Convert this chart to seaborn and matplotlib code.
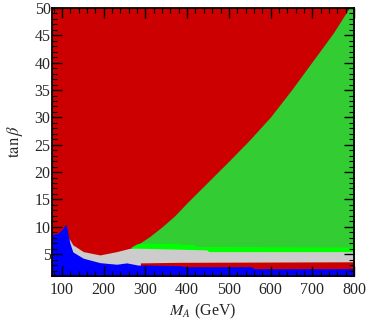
import numpy as np
import matplotlib
matplotlib.use("Agg")
import matplotlib.pyplot as plt
import seaborn as sns
from matplotlib.ticker import MultipleLocator

# region boundaries (M_A in GeV, tan(beta))
# red/green edge (red above)
ma_green = [268, 290, 310, 340, 370, 400, 450, 500, 550, 600, 650, 700, 750, 790, 800]
tb_green = [6.3, 7.2, 8.2, 10.0, 12.0, 14.4, 18.2, 22.0, 25.9, 30.1, 35.0, 40.2, 45.4, 50.2, 51.0]

# bright green band top
ma_lime = [266, 280, 300, 380, 385, 415, 420, 800]
tb_lime = [6.3, 6.9, 7.0, 7.0, 6.8, 6.8, 6.4, 6.3]

# grey band top
ma_gray = [111, 119, 126, 151, 191, 231, 263, 280, 383, 447, 452, 800]
tb_gray = [8.2, 7.6, 6.7, 5.46, 4.85, 5.46, 6.08, 6.08, 5.9, 5.77, 5.46, 5.46]

# lower red band top
ma_redlow = [288, 380, 800]
tb_redlow = [3.4, 3.5, 3.6]

# blue region top
ma_blue = [76, 90, 100, 106, 110, 113, 116, 119, 126, 151, 191, 231, 255, 282,
           300, 380, 400, 555, 560, 800]
tb_blue = [8.6, 8.8, 9.5, 10.2, 10.4, 9.2, 8.0, 7.0, 5.4, 4.25, 3.44, 3.15, 3.4, 3.0,
           3.0, 2.9, 2.7, 2.7, 2.35, 2.35]

RED = "#cc0000"
GREEN = "#33cc33"
LIME = "#00ff00"
GRAY = "#cccccc"
BLUE = "#0000ff"

sns.set_style("ticks")
plt.rcParams['font.family'] = ['Liberation Serif', 'DejaVu Serif']
plt.rcParams['mathtext.fontset'] = 'stix'

fig = plt.figure(figsize=(3.74, 3.23), dpi=100)
ax = fig.add_axes([52/374, 1 - 276/323, (354-52)/374, (276-8)/323])
ax.set_facecolor(RED)

base = 0
layers = [(ma_green, tb_green, GREEN), (ma_lime, tb_lime, LIME), (ma_gray, tb_gray, GRAY),
          (ma_redlow, tb_redlow, RED), (ma_blue, tb_blue, BLUE)]
for xs, ys, c in layers:
    ax.fill_between(xs, base, ys, color=c, lw=0)

ax.set_xlim(76, 800)
ax.set_ylim(1, 50)
ax.xaxis.set_major_locator(MultipleLocator(100))
ax.xaxis.set_minor_locator(MultipleLocator(20))
ax.yaxis.set_major_locator(MultipleLocator(5))
ax.yaxis.set_minor_locator(MultipleLocator(1))
ax.set_axisbelow(False)
ax.tick_params(which='both', direction='in', top=True, right=True, color='black',
               labelsize=11.5)
ax.tick_params(axis='x', pad=4)
ax.tick_params(axis='y', pad=1)
ax.tick_params(which='major', length=7, width=1)
ax.tick_params(which='minor', length=3.5, width=0.8)
for s in ax.spines.values():
    s.set_linewidth(1.3)
    s.set_color('black')

ax.set_xlabel(r'$M_A$ (GeV)', fontsize=11.5, labelpad=3)
ax.set_ylabel(r'$\tan\beta$', fontsize=12, labelpad=7)

fig.savefig("out.png", dpi=100)
